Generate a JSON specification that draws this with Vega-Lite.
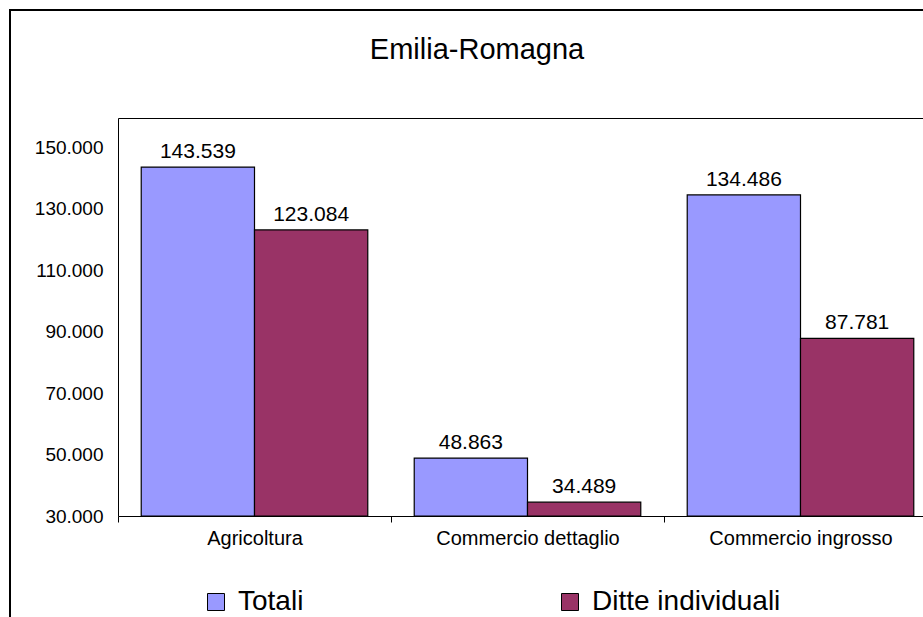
{
  "$schema": "https://vega.github.io/schema/vega-lite/v6.json",
  "width": 934,
  "height": 615,
  "autosize": {"type": "none"},
  "padding": {"left": 10, "top": 10, "right": 0, "bottom": 0},
  "background": "white",
  "config": {
    "font": "Liberation Sans",
    "locale": {"number": {"decimal": ",", "thousands": ".", "grouping": [3], "currency": ["€", ""]}},
    "view": {"stroke": "black", "strokeWidth": 2},
    "axis": {"domainColor": "black", "domainWidth": 1, "grid": false, "labelColor": "black", "tickColor": "black"}
  },
  "title": {
    "text": "Emilia-Romagna",
    "fontSize": 29,
    "fontWeight": "normal",
    "color": "black",
    "anchor": "middle",
    "frame": "group",
    "baseline": "alphabetic",
    "offset": -78
  },
  "data": {
    "values": [
      {"settore": "Agricoltura", "serie": "Totali", "valore": 143539},
      {"settore": "Agricoltura", "serie": "Ditte individuali", "valore": 123084},
      {"settore": "Commercio dettaglio", "serie": "Totali", "valore": 48863},
      {"settore": "Commercio dettaglio", "serie": "Ditte individuali", "valore": 34489},
      {"settore": "Commercio ingrosso", "serie": "Totali", "valore": 134486},
      {"settore": "Commercio ingrosso", "serie": "Ditte individuali", "valore": 87781}
    ]
  },
  "encoding": {
    "xOffset": {
      "field": "serie",
      "type": "nominal",
      "sort": ["Totali", "Ditte individuali"],
      "scale": {"paddingOuter": 0.205, "paddingInner": 0}
    },
    "y": {
      "field": "valore",
      "type": "quantitative",
      "scale": {"domain": [30000, 159500], "range": [506, 108], "zero": false, "nice": false},
      "axis": {
        "orient": "left",
        "offset": -108,
        "values": [30000, 50000, 70000, 90000, 110000, 130000, 150000],
        "format": ",d",
        "ticks": false,
        "labelPadding": 15,
        "labelFontSize": 19,
        "title": null
      }
    }
  },
  "layer": [
    {
      "mark": {"type": "bar", "stroke": "black", "strokeWidth": 1.2},
      "encoding": {
        "x": {
          "field": "settore",
          "type": "nominal",
          "sort": ["Agricoltura", "Commercio dettaglio", "Commercio ingrosso"],
          "scale": {"range": [108, 927], "paddingInner": 0, "paddingOuter": 0},
          "axis": {
            "orient": "bottom",
            "offset": -109,
            "title": null,
            "labelAngle": 0,
            "labelFontSize": 20,
            "labelLimit": 0,
            "tickBand": "extent",
            "tickSize": 6,
            "labelPadding": 6
          }
        },
        "y2": {"datum": 30000},
        "color": {
          "field": "serie",
          "type": "nominal",
          "sort": ["Totali", "Ditte individuali"],
          "scale": {"range": ["#9999FF", "#993366"]},
          "legend": {
            "orient": "none",
            "legendX": 192,
            "legendY": 578,
            "direction": "horizontal",
            "title": null,
            "symbolType": "square",
            "symbolSize": 289,
            "symbolStrokeColor": "black",
            "symbolStrokeWidth": 1,
            "symbolOpacity": 1,
            "labelFontSize": 28,
            "labelColor": "black",
            "labelOffset": 8,
            "labelLimit": 0,
            "columnPadding": 252,
            "padding": 0
          }
        }
      }
    },
    {
      "mark": {"type": "text", "fontSize": 21, "dy": -9, "baseline": "alphabetic", "align": "center", "color": "black"},
      "encoding": {
        "x": {
          "field": "settore",
          "type": "nominal",
          "sort": ["Agricoltura", "Commercio dettaglio", "Commercio ingrosso"],
          "scale": {"range": [108, 927], "paddingInner": 0, "paddingOuter": 0},
          "axis": {
            "orient": "top",
            "offset": -108,
            "title": null,
            "labels": false,
            "ticks": false,
            "domain": true
          }
        },
        "text": {"field": "valore", "type": "quantitative", "format": ",d"}
      }
    }
  ],
  "resolve": {"axis": {"x": "independent"}}
}
